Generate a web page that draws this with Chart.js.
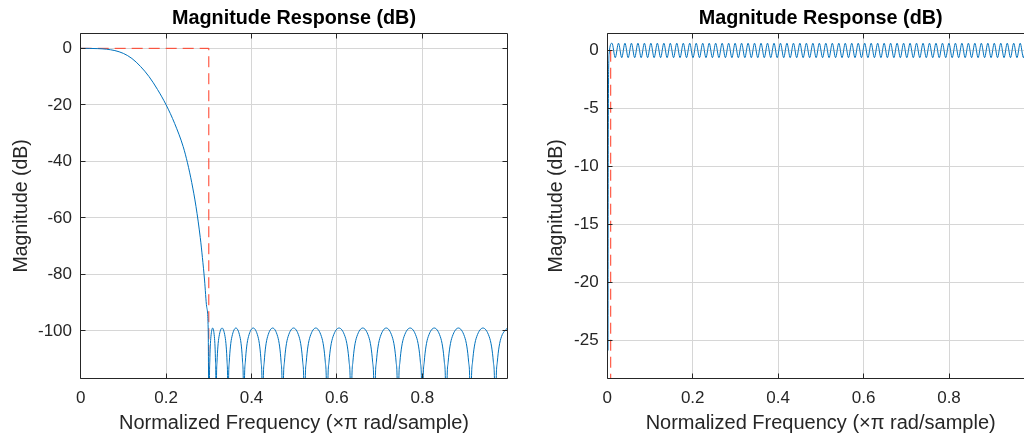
<!DOCTYPE html>
<html>
<head>
<meta charset="utf-8">
<script src="https://cdn.jsdelivr.net/npm/chart.js@4.4.1/dist/chart.umd.min.js"></script>
<style>
  html, body { margin: 0; padding: 0; background: #fff; overflow: hidden; }
  #wrap { position: relative; width: 1024px; height: 435px; overflow: hidden; }
  canvas { position: absolute; top: 0; }
  #lowpass { left: 0; }
  #highpass { left: 520px; }
</style>
</head>
<body>
<div id="wrap">
  <canvas id="lowpass" width="520" height="435"></canvas>
  <canvas id="highpass" width="530" height="435"></canvas>
</div>
<script>
// ---- data ----
const xTicks = [0, 0.2, 0.4, 0.6, 0.8];
const lowpassYTicks = [-100, -80, -60, -40, -20, 0];
const highpassYTicks = [-25, -20, -15, -10, -5, 0];

// lowpass: passband roll-off
const passbandFreq = [0, 0.04, 0.06, 0.08, 0.1, 0.12, 0.14, 0.16, 0.18, 0.2, 0.22, 0.24, 0.25,
  0.26, 0.27, 0.28, 0.285, 0.29, 0.295, 0.2985, 0.301];
const passbandMag = [0, -0.1, -0.3, -0.8, -1.8, -3.6, -6.4, -10.0, -14.6, -20, -26.6, -34.8, -40.5,
  -47.5, -56, -67, -74, -82, -91.5, -99, -150];

// lowpass: stopband lobes (nulls fall below the axis)
const stopbandFreq = [
  0.30148, 0.30228, 0.3034, 0.305, 0.309, 0.313, 0.3146, 0.31572, 0.31652, 0.317,
  0.31784, 0.31924, 0.3212, 0.324, 0.331, 0.338, 0.3408, 0.34276, 0.34416, 0.345,
  0.34611, 0.34796, 0.35055, 0.35425, 0.3635, 0.37275, 0.37645, 0.37904, 0.38089, 0.382,
  0.38332, 0.38552, 0.3886, 0.393, 0.404, 0.415, 0.4194, 0.42248, 0.42468, 0.426,
  0.42741, 0.42976, 0.43305, 0.43775, 0.4495, 0.46125, 0.46595, 0.46924, 0.47159, 0.473,
  0.47453, 0.47708, 0.48065, 0.48575, 0.4985, 0.51125, 0.51635, 0.51992, 0.52247, 0.524,
  0.52559, 0.52824, 0.53195, 0.53725, 0.5505, 0.56375, 0.56905, 0.57276, 0.57541, 0.577,
  0.57868, 0.58148, 0.5854, 0.591, 0.605, 0.619, 0.6246, 0.62852, 0.63132, 0.633,
  0.63465, 0.6374, 0.64125, 0.64675, 0.6605, 0.67425, 0.67975, 0.6836, 0.68635, 0.688,
  0.68965, 0.6924, 0.69625, 0.70175, 0.7155, 0.72925, 0.73475, 0.7386, 0.74135, 0.743,
  0.74471, 0.74756, 0.75155, 0.75725, 0.7715, 0.78575, 0.79145, 0.79544, 0.79829, 0.800,
  0.80168, 0.80448, 0.8084, 0.814, 0.828, 0.842, 0.8476, 0.85152, 0.85432, 0.856,
  0.85771, 0.86056, 0.86455, 0.87025, 0.8845, 0.89875, 0.90445, 0.90844, 0.91129, 0.913,
  0.91474, 0.91764, 0.9217, 0.9275, 0.942, 0.9565, 0.9623, 0.96636, 0.96926, 0.971,
  0.97274, 0.97564, 0.9797, 0.9855, 0.999
];
const stopbandMag = [
  -119.5, -111, -105.7, -102, -99, -102, -105.7, -111, -119.5, -150,
  -119.5, -111, -105.7, -102, -99, -102, -105.7, -111, -119.5, -150,
  -119.5, -111, -105.7, -102, -99, -102, -105.7, -111, -119.5, -150,
  -119.5, -111, -105.7, -102, -99, -102, -105.7, -111, -119.5, -150,
  -119.5, -111, -105.7, -102, -99, -102, -105.7, -111, -119.5, -150,
  -119.5, -111, -105.7, -102, -99, -102, -105.7, -111, -119.5, -150,
  -119.5, -111, -105.7, -102, -99, -102, -105.7, -111, -119.5, -150,
  -119.5, -111, -105.7, -102, -99, -102, -105.7, -111, -119.5, -150,
  -119.5, -111, -105.7, -102, -99, -102, -105.7, -111, -119.5, -150,
  -119.5, -111, -105.7, -102, -99, -102, -105.7, -111, -119.5, -150,
  -119.5, -111, -105.7, -102, -99, -102, -105.7, -111, -119.5, -150,
  -119.5, -111, -105.7, -102, -99, -102, -105.7, -111, -119.5, -150,
  -119.5, -111, -105.7, -102, -99, -102, -105.7, -111, -119.5, -150,
  -119.5, -111, -105.7, -102, -99, -102, -105.7, -111, -119.5, -150,
  -119.5, -111, -105.7, -102, -99
];

const lowpassMaskFreq = [0, 0.3, 0.3];
const lowpassMaskMag = [0, 0, -150];

// highpass: steep edge then passband ripple
const edgeFreq = [0.0017, 0.0022, 0.0042];
const edgeMag = [-25.9, -8.2, -0.3];
const rippleFreq = [
  0.0110, 0.0186, 0.0262, 0.0338, 0.0413, 0.0489, 0.0565, 0.0641, 0.0717, 0.0793,
  0.0869, 0.0944, 0.1020, 0.1096, 0.1172, 0.1248, 0.1324, 0.1400, 0.1475, 0.1551,
  0.1627, 0.1703, 0.1779, 0.1855, 0.1930, 0.2006, 0.2082, 0.2158, 0.2234, 0.2310,
  0.2386, 0.2461, 0.2537, 0.2613, 0.2689, 0.2765, 0.2841, 0.2917, 0.2992, 0.3068,
  0.3144, 0.3220, 0.3296, 0.3372, 0.3447, 0.3523, 0.3599, 0.3675, 0.3751, 0.3827,
  0.3903, 0.3978, 0.4054, 0.4130, 0.4206, 0.4282, 0.4358, 0.4434, 0.4509, 0.4585,
  0.4661, 0.4737, 0.4813, 0.4889, 0.4964, 0.5040, 0.5116, 0.5192, 0.5268, 0.5344,
  0.5420, 0.5495, 0.5571, 0.5647, 0.5723, 0.5799, 0.5875, 0.5951, 0.6026, 0.6102,
  0.6178, 0.6254, 0.6330, 0.6406, 0.6481, 0.6557, 0.6633, 0.6709, 0.6785, 0.6861,
  0.6937, 0.7012, 0.7088, 0.7164, 0.7240, 0.7316, 0.7392, 0.7468, 0.7543, 0.7619,
  0.7695, 0.7771, 0.7847, 0.7923, 0.7998, 0.8074, 0.8150, 0.8226, 0.8302, 0.8378,
  0.8454, 0.8529, 0.8605, 0.8681, 0.8757, 0.8833, 0.8909, 0.8985, 0.9060, 0.9136,
  0.9212, 0.9288, 0.9364, 0.9440, 0.9515, 0.9591, 0.9667, 0.9743, 0.9819, 0.9895,
  0.9970
];
const rippleMag = [
  0.65, -0.6, 0.65, -0.6, 0.65, -0.6, 0.65, -0.6, 0.65, -0.6,
  0.65, -0.6, 0.65, -0.6, 0.65, -0.6, 0.65, -0.6, 0.65, -0.6,
  0.65, -0.6, 0.65, -0.6, 0.65, -0.6, 0.65, -0.6, 0.65, -0.6,
  0.65, -0.6, 0.65, -0.6, 0.65, -0.6, 0.65, -0.6, 0.65, -0.6,
  0.65, -0.6, 0.65, -0.6, 0.65, -0.6, 0.65, -0.6, 0.65, -0.6,
  0.65, -0.6, 0.65, -0.6, 0.65, -0.6, 0.65, -0.6, 0.65, -0.6,
  0.65, -0.6, 0.65, -0.6, 0.65, -0.6, 0.65, -0.6, 0.65, -0.6,
  0.65, -0.6, 0.65, -0.6, 0.65, -0.6, 0.65, -0.6, 0.65, -0.6,
  0.65, -0.6, 0.65, -0.6, 0.65, -0.6, 0.65, -0.6, 0.65, -0.6,
  0.65, -0.6, 0.65, -0.6, 0.65, -0.6, 0.65, -0.6, 0.65, -0.6,
  0.65, -0.6, 0.65, -0.6, 0.65, -0.6, 0.65, -0.6, 0.65, -0.6,
  0.65, -0.6, 0.65, -0.6, 0.65, -0.6, 0.65, -0.6, 0.65, -0.6,
  0.65, -0.6, 0.65, -0.6, 0.65, -0.6, 0.65, -0.6, 0.65, -0.6,
  0.65
];

const highpassMaskFreq = [0.008, 0.008];
const highpassMaskMag = [0, -40];

// ---- styling ----
const FONT = '"Liberation Sans", Arial, Helvetica, sans-serif';
const AXIS_COLOR = '#262626';
const GRID_COLOR = '#d6d6d6';
const LINE_BLUE = '#0072bd';
const MASK_RED = '#ff3b24';

const toPoints = (xs, ys) => xs.map((x, i) => ({ x: x, y: ys[i] }));

// MATLAB-style box with inward tick marks
const axesBox = {
  id: 'axesBox',
  afterDatasetsDraw(chart) {
    const { ctx, chartArea: a, scales: { x, y } } = chart;
    const snap = v => Math.floor(v) + 0.5;
    const L = snap(a.left), R = snap(a.right), T = snap(a.top), B = snap(a.bottom);
    const len = 5;
    ctx.save();
    ctx.strokeStyle = AXIS_COLOR;
    ctx.lineWidth = 1;
    ctx.beginPath();
    ctx.rect(L, T, R - L, B - T);
    x.ticks.forEach(t => {
      const px = snap(x.getPixelForValue(t.value));
      ctx.moveTo(px, B); ctx.lineTo(px, B - len);
      ctx.moveTo(px, T); ctx.lineTo(px, T + len);
    });
    y.ticks.forEach(t => {
      const py = snap(y.getPixelForValue(t.value));
      ctx.moveTo(L, py); ctx.lineTo(L + len, py);
      ctx.moveTo(R, py); ctx.lineTo(R - len, py);
    });
    ctx.stroke();
    ctx.restore();
  }
};

function makeChart(id, cfg) {
  return new Chart(document.getElementById(id), {
    type: 'line',
    data: {
      datasets: [
        {
          data: toPoints(cfg.freq, cfg.mag),
          borderColor: LINE_BLUE,
          borderWidth: 1,
          pointRadius: 0,
          cubicInterpolationMode: 'monotone',
          fill: false
        },
        {
          data: toPoints(cfg.maskFreq, cfg.maskMag),
          borderColor: MASK_RED,
          borderWidth: 1,
          borderDash: [11, 6],
          pointRadius: 0,
          fill: false
        }
      ]
    },
    options: {
      responsive: false,
      animation: false,
      events: [],
      layout: { padding: { left: 0, right: cfg.padRight, top: 0, bottom: 0 } },
      plugins: {
        legend: { display: false },
        tooltip: { enabled: false },
        title: {
          display: true,
          fullSize: false,
          text: 'Magnitude Response (dB)',
          color: '#000',
          font: { family: FONT, size: 19.8, weight: 'bold' },
          padding: { top: 6.8, bottom: 2.8 }
        }
      },
      scales: {
        x: {
          type: 'linear',
          min: 0,
          max: 0.999,
          afterBuildTicks: s => { s.ticks = xTicks.map(v => ({ value: v })); },
          afterFit: s => { s.height = 56.7; },
          grid: { color: GRID_COLOR, lineWidth: 1, drawTicks: false },
          border: { display: false },
          ticks: {
            color: AXIS_COLOR,
            font: { family: FONT, size: 17 },
            padding: 9.5,
            maxRotation: 0,
            callback: v => String(v)
          },
          title: {
            display: true,
            text: 'Normalized Frequency (\u00d7\u03c0 rad/sample)',
            color: AXIS_COLOR,
            font: { family: FONT, size: 20 },
            padding: { top: 0, bottom: 0 }
          }
        },
        y: {
          type: 'linear',
          min: cfg.yMin,
          max: cfg.yMax,
          afterBuildTicks: s => { s.ticks = cfg.yTicks.map(v => ({ value: v })); },
          afterFit: s => { s.width = cfg.yWidth; },
          grid: { color: GRID_COLOR, lineWidth: 1, drawTicks: false },
          border: { display: false },
          ticks: {
            color: AXIS_COLOR,
            font: { family: FONT, size: 17 },
            padding: 8.7,
            callback: v => String(v)
          },
          title: {
            display: true,
            text: 'Magnitude (dB)',
            color: AXIS_COLOR,
            font: { family: FONT, size: 19.5 },
            padding: { top: cfg.yTitlePad, bottom: 0 }
          }
        }
      }
    },
    plugins: [axesBox]
  });
}

makeChart('lowpass', {
  freq: passbandFreq.concat(stopbandFreq),
  mag: passbandMag.concat(stopbandMag),
  maskFreq: lowpassMaskFreq,
  maskMag: lowpassMaskMag,
  yMin: -116.8,
  yMax: 5.3,
  yTicks: lowpassYTicks,
  yWidth: 80.7,
  yTitlePad: 10.3,
  padRight: 12.7
});

makeChart('highpass', {
  freq: edgeFreq.concat(rippleFreq),
  mag: edgeMag.concat(rippleMag),
  maskFreq: highpassMaskFreq,
  maskMag: highpassMaskMag,
  yMin: -28.3,
  yMax: 1.5,
  yTicks: highpassYTicks,
  yWidth: 87.3,
  yTitlePad: 25,
  padRight: 16
});
</script>
</body>
</html>
